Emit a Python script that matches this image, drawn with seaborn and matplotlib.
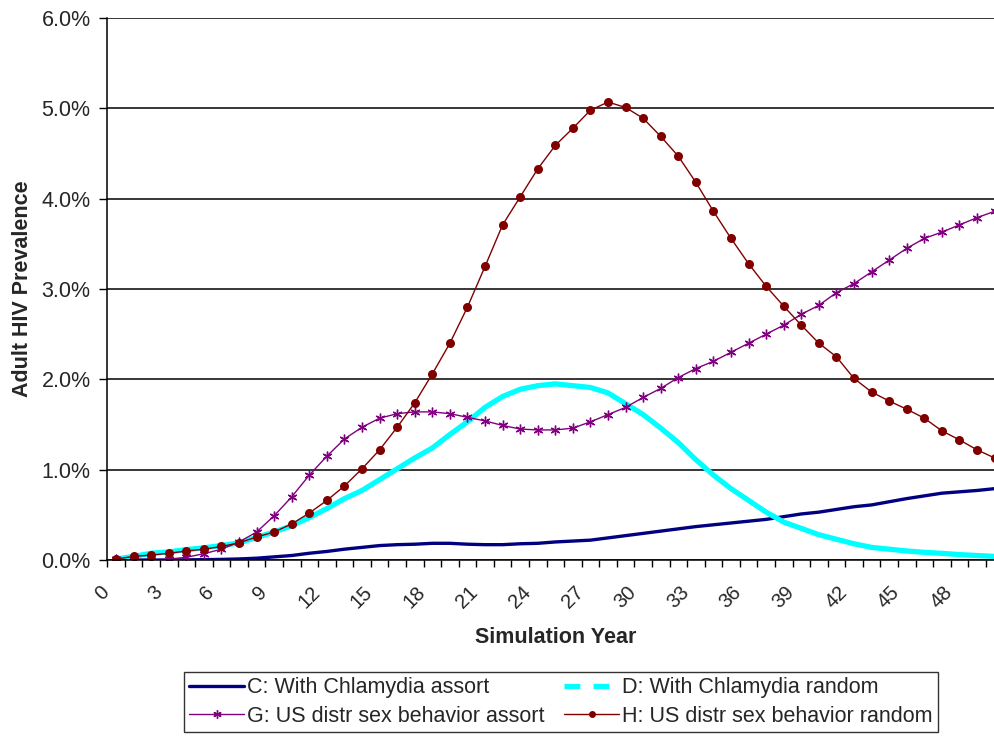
import numpy as np
import pandas as pd
import matplotlib
matplotlib.use("Agg")
import matplotlib.pyplot as plt
import matplotlib.transforms as mtransforms
import seaborn as sns
from matplotlib.lines import Line2D
from matplotlib.ticker import PercentFormatter

# Adult HIV prevalence (%) by simulation year 0..50
years = list(range(51))

chlamydia_assort = [0.0, 0.0, 0.0, 0.0, 0.002, 0.004, 0.007, 0.012, 0.02, 0.035,
                    0.05, 0.075, 0.095, 0.12, 0.14, 0.16, 0.17, 0.175, 0.185, 0.185,
                    0.175, 0.17, 0.17, 0.18, 0.185, 0.2, 0.21, 0.22, 0.245, 0.27,
                    0.295, 0.32, 0.345, 0.37, 0.39, 0.41, 0.43, 0.45, 0.48, 0.51,
                    0.53, 0.56, 0.59, 0.61, 0.645, 0.68, 0.71, 0.74, 0.755, 0.77, 0.79]

chlamydia_random = [0.01, 0.04, 0.075, 0.09, 0.115, 0.135, 0.16, 0.19, 0.25, 0.31,
                    0.38, 0.47, 0.57, 0.68, 0.77, 0.89, 1.01, 1.13, 1.24, 1.39,
                    1.53, 1.69, 1.81, 1.89, 1.93, 1.95, 1.93, 1.91, 1.85, 1.73,
                    1.61, 1.46, 1.30, 1.11, 0.94, 0.79, 0.66, 0.53, 0.42, 0.35,
                    0.28, 0.23, 0.18, 0.14, 0.12, 0.10, 0.085, 0.074, 0.06, 0.05, 0.04]

us_assort = [0.01, 0.0, 0.0, 0.01, 0.03, 0.07, 0.12, 0.20, 0.31, 0.49,
             0.70, 0.94, 1.15, 1.34, 1.47, 1.57, 1.62, 1.64, 1.64, 1.62,
             1.58, 1.54, 1.49, 1.45, 1.44, 1.44, 1.46, 1.53, 1.61, 1.69,
             1.80, 1.90, 2.02, 2.12, 2.20, 2.30, 2.40, 2.50, 2.60, 2.72,
             2.82, 2.96, 3.06, 3.19, 3.32, 3.45, 3.56, 3.63, 3.71, 3.79, 3.86]

us_random = [0.01, 0.04, 0.055, 0.074, 0.10, 0.12, 0.15, 0.19, 0.255, 0.31,
             0.40, 0.52, 0.66, 0.82, 1.01, 1.22, 1.47, 1.74, 2.06, 2.40,
             2.80, 3.25, 3.71, 4.02, 4.33, 4.59, 4.78, 4.98, 5.07, 5.01,
             4.89, 4.69, 4.47, 4.18, 3.86, 3.56, 3.28, 3.03, 2.81, 2.60,
             2.40, 2.25, 2.01, 1.86, 1.76, 1.67, 1.57, 1.43, 1.33, 1.22, 1.13]

labels = ["C: With Chlamydia assort", "D: With Chlamydia random",
          "G: US distr sex behavior assort", "H: US distr sex behavior random"]
tick_years = list(range(0, 49, 3))

sns.set_style("white")
plt.rcParams["font.family"] = ["Liberation Sans", "DejaVu Sans"]

fig = plt.figure(figsize=(9.95, 7.36), dpi=100)
ax = fig.add_axes([0.1078, 0.2391, 0.9006, 0.7364])

sns.lineplot(x=years, y=chlamydia_assort, ax=ax, color="#000080", lw=2.4)
sns.lineplot(x=years, y=chlamydia_random, ax=ax, color="#00FFFF", lw=3.8)
sns.lineplot(x=years, y=us_assort, ax=ax, color="#800080", lw=1.0,
             marker=(6, 2, 0), markersize=7, markeredgewidth=1.0,
             markeredgecolor="#800080")
sns.lineplot(x=years, y=us_random, ax=ax, color="#800000", lw=1.0,
             marker="o", markersize=6.5, markeredgewidth=0,
             markerfacecolor="#800000")

ax.set_xlim(-0.5, 50.5)
ax.set_ylim(0, 6)
ax.set_yticks(np.arange(0, 6.1, 1))
ax.yaxis.set_major_formatter(PercentFormatter(xmax=100, decimals=1))
ax.yaxis.grid(True, color="black", lw=1.1)
ax.set_axisbelow(True)

ax.set_xticks(tick_years)
ax.set_xticklabels([str(t) for t in tick_years], rotation=45, ha="right",
                   va="top", rotation_mode="anchor")
ax.set_xticks(np.arange(-0.5, 51, 1), minor=True)
ax.tick_params(axis="x", which="major", length=0, pad=16, labelsize=14.5)
ax.tick_params(axis="x", which="minor", length=5, width=1, color="black",
               direction="out", bottom=True)
ax.tick_params(axis="y", length=6, width=1, color="black", direction="out",
               left=True, pad=6, labelsize=15.5)

# Excel puts the rotated labels a little left of the category centre
shift = mtransforms.ScaledTranslation(-12 / 72, 0, fig.dpi_scale_trans)
for lbl in ax.get_xticklabels():
    lbl.set_transform(lbl.get_transform() + shift)

for side in ["top", "right"]:
    ax.spines[side].set_visible(False)
ax.spines["left"].set_color("black")
ax.spines["bottom"].set_color("black")
ax.spines["left"].set_linewidth(1.1)
ax.spines["bottom"].set_linewidth(1.1)

ax.set_xlabel("Simulation Year", fontsize=15.5, fontweight="bold", labelpad=11)
ax.set_ylabel("Adult HIV Prevalence", fontsize=15.5, fontweight="bold", labelpad=6)

# legend rows read C, D / G, H (matplotlib fills columns first)
handles = {
    labels[0]: Line2D([], [], color="#000080", lw=2.4),
    labels[1]: Line2D([], [], color="#00FFFF", lw=3.8, dashes=(3, 2.5)),
    labels[2]: Line2D([], [], color="#800080", lw=1.0, marker=(6, 2, 0), markersize=6),
    labels[3]: Line2D([], [], color="#800000", lw=1.0, marker="o", markersize=5,
                      markeredgewidth=0),
}
order = [labels[0], labels[2], labels[1], labels[3]]
leg = fig.legend([handles[k] for k in order], order, loc="center", ncol=2,
                 bbox_to_anchor=(0.564, 0.046), fontsize=15.5, frameon=True,
                 fancybox=False, edgecolor="black", handlelength=2.55,
                 handletextpad=0.15, columnspacing=0.9, labelspacing=0.35,
                 borderpad=0.25, borderaxespad=0)
leg.get_frame().set_linewidth(1.0)

fig.savefig("out.png", dpi=100)
